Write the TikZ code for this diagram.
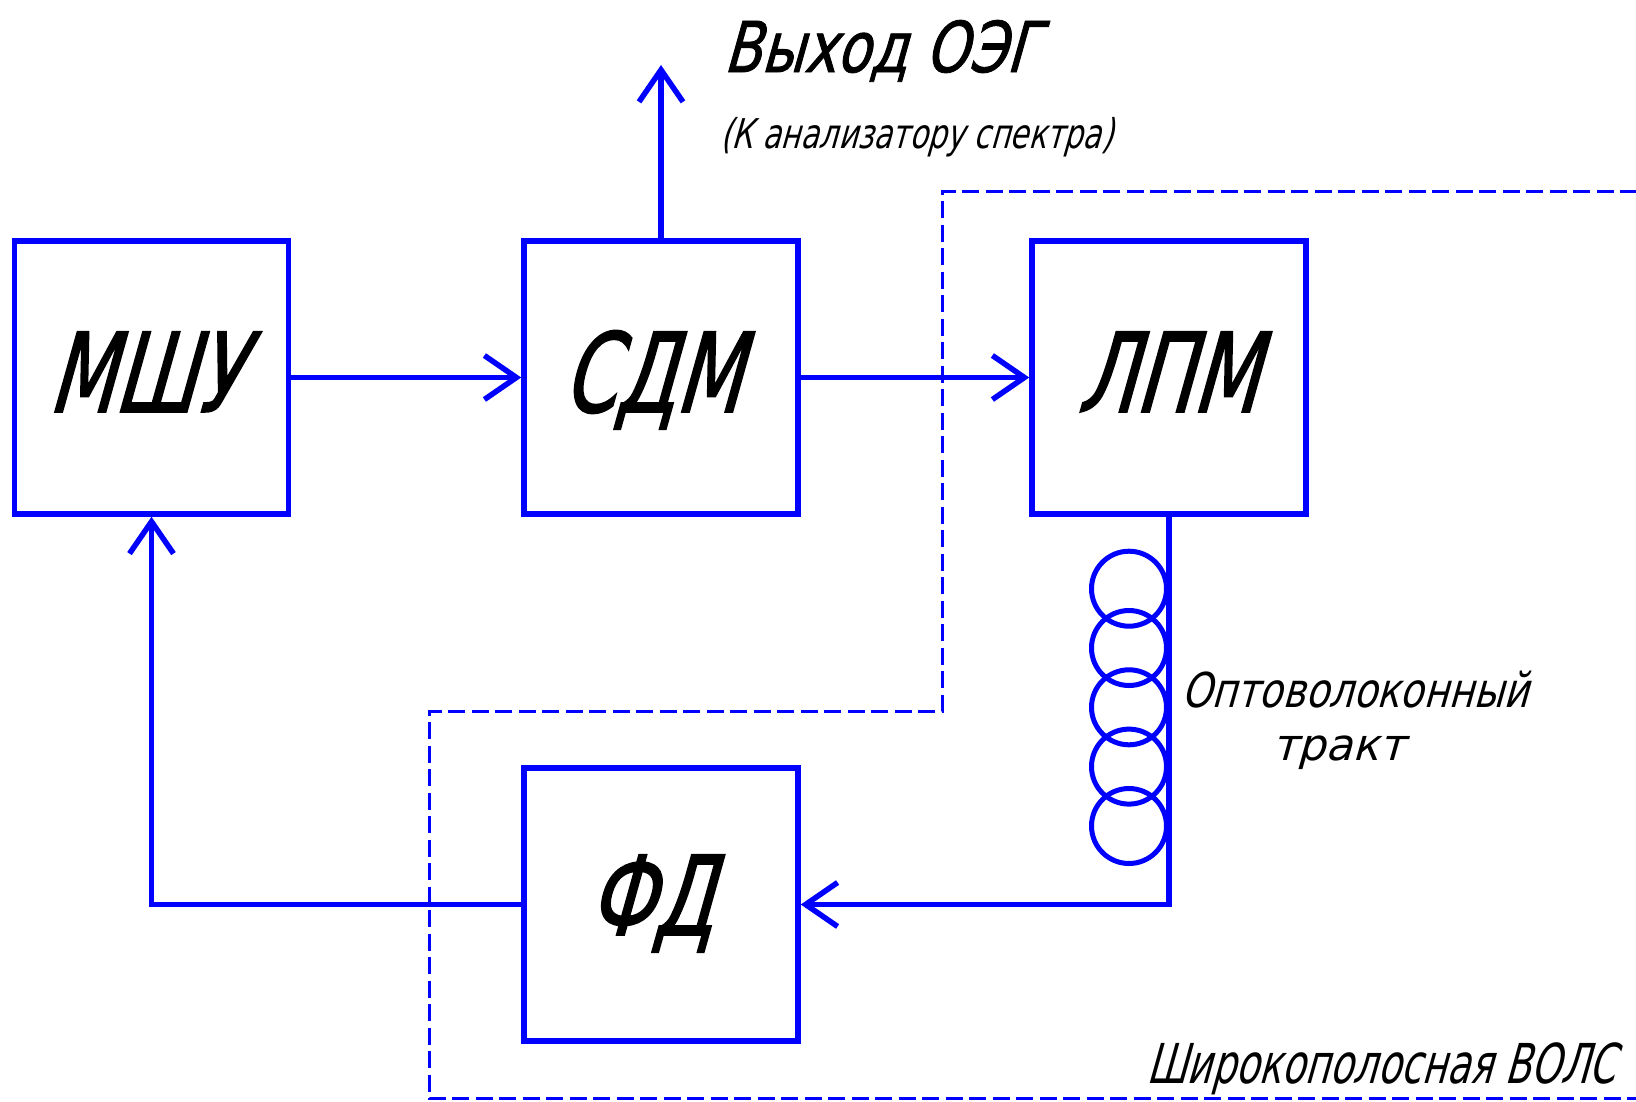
\documentclass[tikz,border=0pt]{standalone}
\usepackage{fontspec}
% slanted, condensed drafting-style lettering in several widths
\newfontfamily\gostbox[FakeSlant=0.28,FakeStretch=0.69,FakeBold=1.5]{DejaVu Sans}
\newfontfamily\gosttitle[FakeSlant=0.28,FakeStretch=0.78,FakeBold=1.2]{DejaVu Sans}
\newfontfamily\gostnote[FakeSlant=0.28,FakeStretch=0.73]{DejaVu Sans}
\newfontfamily\gostfibre[FakeSlant=0.28,FakeStretch=0.80]{DejaVu Sans}
\newfontfamily\gostwide[FakeSlant=0.28,FakeStretch=1.0]{DejaVu Sans}
\newfontfamily\gostlink[FakeSlant=0.28,FakeStretch=0.69]{DejaVu Sans}
\usetikzlibrary{arrows.meta}
\definecolor{lineblue}{RGB}{0,0,255}
\begin{document}
\begin{tikzpicture}[x=1pt,y=-1pt,
  block/.style={draw=lineblue,line width=5.5pt,minimum width=274pt,minimum height=273pt,inner sep=0pt},
  wire/.style={draw=lineblue,line width=5.5pt},
  link/.style={wire,-{Straight Barb[length=32pt,width=44pt,line width=5.5pt]}},
  coilturn/.style={draw=lineblue,line width=5pt},
  border/.style={draw=lineblue,line width=3pt,dash pattern=on 17pt off 6.5pt},
  boxlabel/.style={font=\gostbox\fontsize{110}{110}\selectfont,inner sep=0pt,anchor=base},
  caption/.style={inner sep=0pt,anchor=base west}]
\useasboundingbox (0,0) rectangle (1636,1101);
\fill[white] (0,0) rectangle (1636,1101);

% blocks
\node[block] (msu) at (151.5,377.5) {};
\node[block] (sdm) at (661,377.5) {};
\node[block] (lpm) at (1169,377.5) {};
\node[block] (fd)  at (661,904.5) {};

\node[boxlabel] (msuT) at (144,412) {МШУ};
\node[boxlabel] (sdmT) at (651,412) {СДМ};
\node[boxlabel] (lpmT) at (1167,412) {ЛПМ};
\node[boxlabel] (fdT)  at (650,935) {ФД};

% output to the spectrum analyser
\coordinate (out) at (661,65);
\draw[link] (sdm.north) -- (out);
\node[caption,font=\gosttitle\fontsize{70}{70}\selectfont] (outT) at (723,72) {Выход ОЭГ};
\node[caption,font=\gostnote\fontsize{41}{41}\selectfont] (outS) at (720,148) {(К анализатору спектра)};

% forward path
\draw[link] (msu.east) -- (sdm.west);
\draw[link] (sdm.east) -- (lpm.west);

% fibre path through the coil
\draw[link] (lpm.south) |- (fd.east);
\foreach \cy in {588.7,648,707.3,766.6,826}
  \draw[coilturn] (1129,\cy) circle (37.5pt);
\node[caption,font=\gostfibre\fontsize{48}{48}\selectfont] (fibT) at (1181,707) {Оптоволоконный};
\node[caption,font=\gostwide\fontsize{44}{44}\selectfont] (fibT2) at (1272,760) {тракт};

% feedback to the amplifier
\draw[link] (fd.west) -| (msu.south);

% broadband fibre link outline
\draw[border] (1637,191) -- (942,191) -- (942,711) -- (429,711) -- (429,1098.5) -- (1637,1098.5) -- cycle;
\node[caption,font=\gostlink\fontsize{55}{55}\selectfont] (wolsT) at (1146,1083) {Широкополосная ВОЛС};
\end{tikzpicture}
\end{document}
